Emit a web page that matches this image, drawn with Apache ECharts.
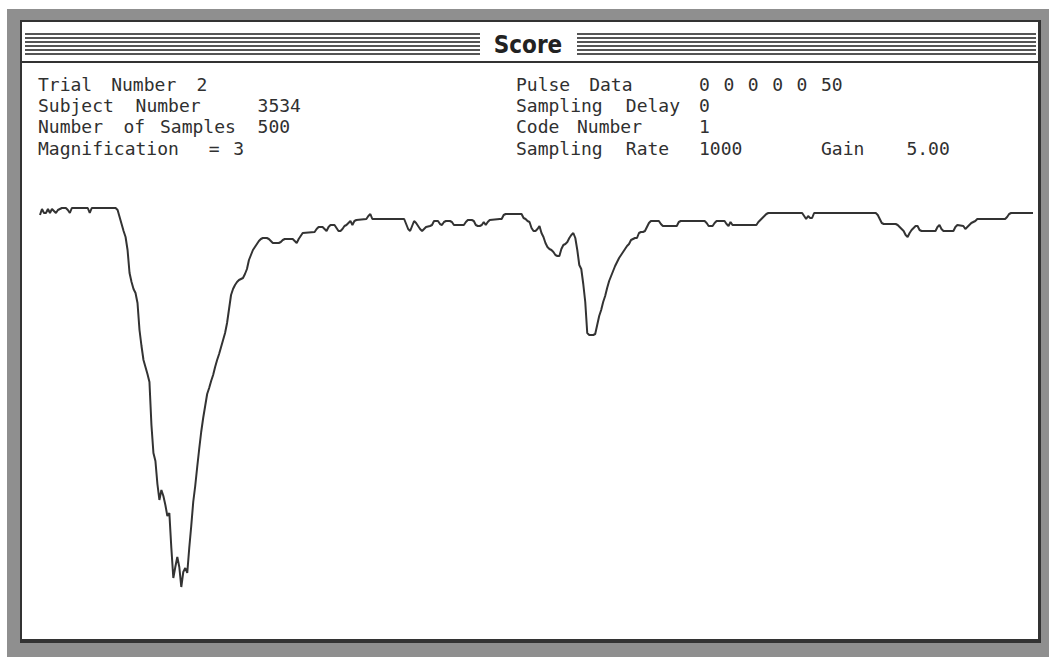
<!DOCTYPE html>
<html>
<head>
<meta charset="utf-8">
<script src="https://cdn.jsdelivr.net/npm/echarts@6/dist/echarts.min.js"></script>
<style>
html, body { margin: 0; padding: 0; background: #fff; }
#main { width: 1049px; height: 657px; }
</style>
</head>
<body>
<div id="main"></div>
<script>
// sample index / amplitude pairs (500 samples)
var sampleNo = [0,1,2,3,4,5,6,7,8,9,10,11,13,14,15,16,24,25,26,38,39,40,41,42,43,44,45,46,47,48,49,50,51,52,53,54,55,56,57,58,59,60,61,62,63,64,65,66,67,68,69,70,71,72,73,74,75,76,77,78,79,80,81,82,83,84,85,86,87,88,89,90,91,92,93,94,95,96,97,98,99,100,101,102,103,104,105,106,107,108,109,110,111,112,114,115,116,117,120,121,122,123,127,128,129,130,131,132,138,139,140,142,143,144,145,146,148,149,150,151,152,153,154,155,156,157,158,159,164,165,166,167,183,184,185,186,187,188,189,190,191,192,193,194,196,197,198,200,201,202,203,204,206,207,208,213,214,215,217,218,219,220,221,222,223,224,225,226,231,232,233,234,242,243,244,245,246,247,248,249,250,251,252,253,254,255,256,257,258,259,260,261,262,263,264,265,266,267,268,269,270,271,272,273,274,275,276,278,279,280,281,282,283,284,285,286,287,288,289,290,291,292,293,294,295,296,297,298,299,300,301,302,303,304,305,306,307,311,312,313,320,321,322,334,335,336,338,339,340,344,345,346,347,348,360,361,362,363,364,365,366,383,384,385,386,387,388,389,420,421,422,423,424,430,431,432,433,434,435,436,437,438,439,440,441,442,443,450,451,452,453,454,459,460,461,464,465,466,467,468,469,470,471,485,486,487,488,499];
var amplitude = [385,391,387,387,391,387,391,389,387,390,391,392,392,390,387,392,392,387,392,392,390,383,376,369,363,350,327,318,311,307,297,270,254,240,233,226,218,175,147,139,116,100,110,104,95,84,87,52,22,33,43,33,13,28,32,27,52,74,98,114,133,151,168,182,194,206,212,219,225,233,240,246,253,260,267,277,291,305,311,315,318,320,321,322,326,331,340,345,350,353,356,359,361,362,362,361,359,357,357,358,360,361,361,359,357,361,364,367,368,371,373,373,371,369,373,375,375,372,369,369,371,374,375,377,379,375,379,380,381,384,386,381,381,376,371,369,374,379,377,374,371,369,371,373,374,375,379,379,376,375,378,379,379,378,375,375,378,380,380,379,375,374,374,375,378,375,378,380,381,381,385,386,386,382,381,379,378,372,369,369,371,374,367,363,357,353,351,350,348,345,344,344,351,355,356,358,362,365,367,362,350,335,331,316,298,267,265,265,266,275,284,290,298,304,312,319,324,329,334,338,342,345,348,351,354,356,360,361,362,362,367,368,368,369,373,377,379,379,376,374,374,378,379,379,377,374,374,377,379,379,376,374,378,375,375,378,380,382,384,386,387,387,384,381,384,382,382,387,387,385,381,377,376,376,375,373,371,369,365,363,367,370,372,374,374,370,369,369,373,375,371,369,369,373,375,374,371,373,375,377,378,379,381,381,383,386,387,387];

// header text of the Score window (fixed-width columns)
var leftLines = [
	'Trial Number 2',
	'Subject Number    3534',
	'Number of Samples 500',
	'Magnification = 3'
];
var rightLines = [
	'Pulse Data     0 0 0 0 0 50',
	'Sampling Delay 0',
	'Code Number    1',
	'Sampling Rate  1000      Gain   5.00'
];
var windowTitle = 'Score';

var trace = sampleNo.map(function (s, i) { return [s, amplitude[i]]; });

var FONT = '18px "DejaVu Sans Mono", "Liberation Mono", monospace';
var INK = '#303030';
var PITCH = 12.2; // width of one character cell
var rowY = [84, 105, 126, 148];

// place each word of a fixed-width line at its own column
function line(str, x0, y, out) {
	var col = 0;
	str.split(' ').forEach(function (w) {
		if (w) {
			out.push({
				type: 'text', x: x0 + col * PITCH, y: y, z: 5,
				style: { text: w, font: FONT, fill: INK, verticalAlign: 'middle' }
			});
		}
		col += w.length + 1;
	});
}

var g = [];
// window frame: dithered grey edge, dark outline, white pane
g.push({ type: 'rect', z: 0, shape: { x: 7, y: 9, width: 1042, height: 648 }, style: { fill: '#8f8f8f' } });
g.push({ type: 'rect', z: 1, shape: { x: 20, y: 20, width: 1021, height: 623 }, style: { fill: '#333' } });
g.push({ type: 'rect', z: 1, shape: { x: 22, y: 22, width: 1016, height: 617 }, style: { fill: '#fff' } });
// title bar stripes
for (var k = 0; k < 6; k++) {
	var sy = 33 + k * 4;
	g.push({ type: 'rect', z: 2, shape: { x: 25, y: sy, width: 455, height: 2 }, style: { fill: '#555' } });
	g.push({ type: 'rect', z: 2, shape: { x: 577, y: sy, width: 459, height: 2 }, style: { fill: '#555' } });
}
g.push({ type: 'rect', z: 2, shape: { x: 22, y: 61, width: 1016, height: 2 }, style: { fill: '#333' } });
g.push({
	type: 'text', x: 528, y: 45, z: 5,
	style: { text: windowTitle, font: 'bold 24px "DejaVu Sans Condensed", "DejaVu Sans", sans-serif', fill: '#222', align: 'center', verticalAlign: 'middle' }
});

for (var r = 0; r < 4; r++) {
	line(leftLines[r], 38, rowY[r], g);
	line(rightLines[r], 516, rowY[r], g);
}

var myChart = echarts.init(document.getElementById('main'), null, { renderer: 'svg' });
option = {
	animation: false,
	backgroundColor: '#fff',
	graphic: g,
	grid: { left: 40, right: 16, top: 200, bottom: 57 },
	xAxis: {
		type: 'value', min: 0, max: 499,
		show: false
	},
	yAxis: {
		type: 'value', min: 0, max: 400,
		show: false
	},
	series: [
		{
			name: 'Score',
			type: 'line',
			z: 10,
			data: trace,
			symbol: 'none',
			lineStyle: { color: '#333', width: 2 }
		}
	]
};
myChart.setOption(option);
</script>
</body>
</html>
